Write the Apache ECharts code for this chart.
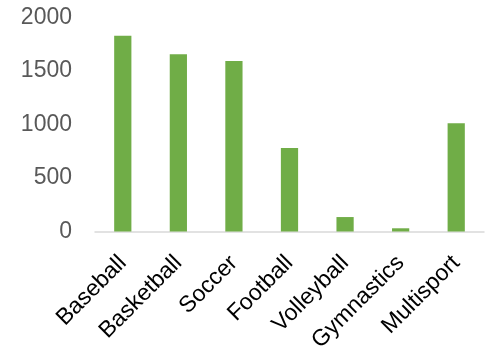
<!DOCTYPE html>
<html>
<head>
<meta charset="utf-8">
<script src="https://cdn.jsdelivr.net/npm/echarts@6/dist/echarts.min.js"></script>
<style>html,body{margin:0;padding:0;background:#fff}#c{width:486px;height:347px}</style>
</head>
<body>
<div id="c"></div>
<script>
const categories = ["Baseball", "Basketball", "Soccer", "Football", "Volleyball", "Gymnastics", "Multisport"];
const values = [1830, 1656, 1593, 780, 135, 30, 1011];
const yTicks = [0, 500, 1000, 1500, 2000];

const FONT = "'Liberation Sans'";
const chart = echarts.init(document.getElementById('c'), null, {renderer: 'canvas'});
chart.setOption({
  animation: false,
  grid: {left: 95, right: 2, top: 17.5, bottom: 115.5, containLabel: false, outerBoundsMode: 'none'},
  xAxis: {
    type: 'category',
    data: categories,
    axisLine: {lineStyle: {color: '#d9d9d9', width: 1.5}},
    axisTick: {show: false},
    axisLabel: {interval: 0, rotate: 45, color: '#000', fontFamily: FONT, fontSize: 23, margin: 28}
  },
  yAxis: {
    type: 'value',
    min: yTicks[0], max: yTicks[yTicks.length - 1], interval: 500,
    splitLine: {show: false},
    axisLine: {show: false},
    axisTick: {show: false},
    axisLabel: {color: '#595959', fontFamily: FONT, fontSize: 23, margin: 23, formatter: v => String(v)}
  },
  series: [{
    type: 'bar',
    data: values,
    barWidth: '31%',
    itemStyle: {color: '#70ad47'}
  }]
});
</script>
</body>
</html>
